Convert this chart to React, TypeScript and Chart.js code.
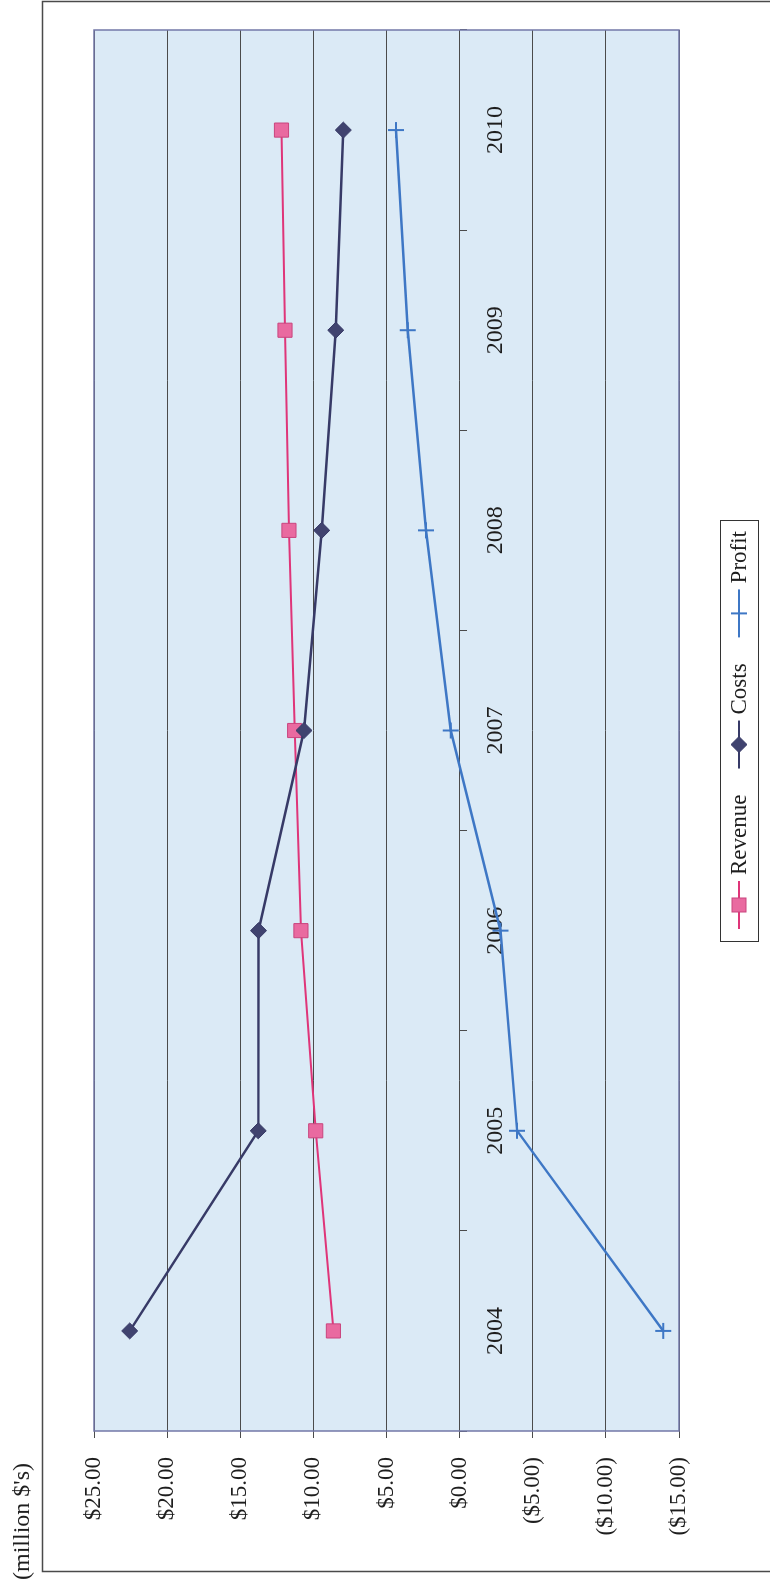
import React, { useEffect, useRef } from "react";
import { Chart, registerables } from "chart.js";

Chart.register(...registerables);

// ---- data ----
const years = ["2004", "2005", "2006", "2007", "2008", "2009", "2010"];
const revenue = [8.63, 9.84, 10.85, 11.28, 11.67, 11.94, 12.18];
const costs = [22.56, 13.77, 13.75, 10.64, 9.43, 8.47, 7.95];
const profit = [-13.93, -3.93, -2.8, 0.6, 2.3, 3.55, 4.35];
const seriesNames = ["Revenue", "Costs", "Profit"];
const valueMin = -15;
const valueMax = 25;
const valueStep = 5;
const axisTitle = "(million $'s)";

const fmt = (v: number) =>
  v < 0 ? `($${Math.abs(v).toFixed(2)})` : `$${v.toFixed(2)}`;

// landscape canvas, rotated to portrait by CSS
const W = 1585;
const H = 770;
const SERIF = '"Liberation Serif", "Times New Roman", serif';

const COLORS = {
  revLine: "#df3579",
  revFill: "#e96aa0",
  revEdge: "#c9457e",
  costLine: "#373a67",
  costFill: "#40436f",
  profLine: "#3e77c5",
  grid: "#4b4b4b",
  plotBorder: "#7378a8",
  plotBg: "#dbeaf6",
  frame: "#4a4a4a",
  text: "#1e1e1e",
};

function drawMarker(ctx: CanvasRenderingContext2D, style: string, x: number, y: number, fill: string, stroke: string) {
  ctx.save();
  ctx.fillStyle = fill;
  ctx.strokeStyle = stroke;
  ctx.lineWidth = 1;
  if (style === "rect") {
    ctx.fillRect(x - 7, y - 7, 14, 14);
    ctx.strokeRect(x - 7, y - 7, 14, 14);
  } else if (style === "rectRot") {
    ctx.beginPath();
    ctx.moveTo(x, y - 8);
    ctx.lineTo(x + 8, y);
    ctx.lineTo(x, y + 8);
    ctx.lineTo(x - 8, y);
    ctx.closePath();
    ctx.fill();
    ctx.stroke();
  } else {
    ctx.lineWidth = 2;
    ctx.beginPath();
    ctx.moveTo(x - 8, y);
    ctx.lineTo(x + 8, y);
    ctx.moveTo(x, y - 8);
    ctx.lineTo(x, y + 8);
    ctx.stroke();
  }
  ctx.restore();
}

const decorPlugin = {
  id: "decor",
  beforeDraw(chart: any) {
    const { ctx, chartArea: a } = chart;
    ctx.save();
    ctx.fillStyle = "#ffffff";
    ctx.fillRect(0, 0, W, H);
    ctx.strokeStyle = COLORS.frame;
    ctx.lineWidth = 1.5;
    ctx.strokeRect(13.5, 42.5, 1570, 800);
    ctx.fillStyle = COLORS.plotBg;
    ctx.fillRect(a.left, a.top, a.right - a.left, a.bottom - a.top);
    ctx.font = `24px ${SERIF}`;
    ctx.fillStyle = COLORS.text;
    ctx.textAlign = "left";
    ctx.textBaseline = "middle";
    ctx.fillText(axisTitle, 5, 23);
    ctx.restore();
  },
  beforeDatasetsDraw(chart: any) {
    const { ctx, chartArea: a } = chart;
    ctx.save();
    ctx.strokeStyle = COLORS.plotBorder;
    ctx.lineWidth = 1.5;
    ctx.strokeRect(a.left, a.top, a.right - a.left, a.bottom - a.top);
    ctx.restore();
  },
  afterDraw(chart: any) {
    const { ctx } = chart;
    ctx.save();
    ctx.font = `23px ${SERIF}`;
    const top = 720;
    const bottom = 758;
    const cy = (top + bottom) / 2;
    const left = 643;
    let x = 656;
    const items = chart.data.datasets.map((d: any) => ({
      label: d.label,
      line: d.borderColor,
      fill: d.pointBackgroundColor,
      edge: d.pointBorderColor,
      style: d.pointStyle,
    }));
    const placed: any[] = [];
    items.forEach((it: any, i: number) => {
      const tw = ctx.measureText(it.label).width;
      placed.push({ ...it, x, tx: x + 54 });
      x = x + 54 + tw + (i < items.length - 1 ? 26 : 10);
    });
    const right = x;
    ctx.fillStyle = "#ffffff";
    ctx.fillRect(left, top, right - left, bottom - top);
    ctx.strokeStyle = "#333";
    ctx.lineWidth = 1;
    ctx.strokeRect(left + 0.5, top + 0.5, right - left, bottom - top);
    placed.forEach((p) => {
      ctx.strokeStyle = p.line;
      ctx.lineWidth = 2;
      ctx.beginPath();
      ctx.moveTo(p.x, cy);
      ctx.lineTo(p.x + 48, cy);
      ctx.stroke();
      drawMarker(ctx, p.style, p.x + 24, cy, p.fill, p.style === "cross" ? p.line : p.edge);
      ctx.fillStyle = COLORS.text;
      ctx.textAlign = "left";
      ctx.textBaseline = "middle";
      ctx.fillText(p.label, p.tx, cy + 1);
    });
    ctx.restore();
  },
};

export default function App() {
  const ref = useRef<HTMLCanvasElement>(null);

  useEffect(() => {
    if (!ref.current) return;
    const chart = new Chart(ref.current, {
      type: "line",
      data: {
        labels: years,
        datasets: [
          {
            label: seriesNames[0],
            data: revenue,
            borderColor: COLORS.revLine,
            borderWidth: 2,
            pointStyle: "rect",
            pointRadius: 10,
            pointBackgroundColor: COLORS.revFill,
            pointBorderColor: COLORS.revEdge,
            pointBorderWidth: 1,
            tension: 0,
            order: 2,
          },
          {
            label: seriesNames[1],
            data: costs,
            borderColor: COLORS.costLine,
            borderWidth: 2.5,
            pointStyle: "rectRot",
            pointRadius: 8,
            pointBackgroundColor: COLORS.costFill,
            pointBorderColor: COLORS.costLine,
            pointBorderWidth: 1,
            tension: 0,
            order: 1,
          },
          {
            label: seriesNames[2],
            data: profit,
            borderColor: COLORS.profLine,
            borderWidth: 2.5,
            pointStyle: "cross",
            pointRadius: 8,
            pointBackgroundColor: COLORS.profLine,
            pointBorderColor: COLORS.profLine,
            pointBorderWidth: 2,
            tension: 0,
            order: 0,
          },
        ],
      },
      options: {
        animation: false,
        responsive: false,
        devicePixelRatio: 1,
        layout: { padding: { left: 0, right: 30, top: 94, bottom: 91 } },
        plugins: {
          legend: { display: false },
          tooltip: { enabled: false },
          title: { display: false },
        },
        scales: {
          x: {
            type: "category",
            position: { y: 0 } as any,
            offset: true,
            grid: {
              offset: true,
              drawOnChartArea: false,
              drawTicks: true,
              tickLength: 7,
              color: COLORS.grid,
              lineWidth: 1,
            },
            border: { display: false },
            ticks: {
              font: { family: SERIF, size: 24 },
              color: COLORS.text,
              padding: 15,
              maxRotation: 0,
              autoSkip: false,
            },
          },
          y: {
            min: valueMin,
            max: valueMax,
            ticks: {
              stepSize: valueStep,
              callback: (v: any) => fmt(Number(v)),
              font: { family: SERIF, size: 23 },
              color: COLORS.text,
              padding: 19,
            },
            grid: { color: COLORS.grid, lineWidth: 1, tickLength: 7 },
            border: { display: false },
            afterFit: (s: any) => {
              s.width = 154;
            },
          },
        },
      },
      plugins: [decorPlugin],
    });
    return () => chart.destroy();
  }, []);

  return (
    <div
      style={{
        position: "absolute",
        left: 0,
        top: 0,
        width: 770,
        height: 1585,
        overflow: "hidden",
        background: "#fff",
      }}
    >
      <div
        style={{
          position: "absolute",
          left: 0,
          top: 0,
          width: W,
          height: H,
          transformOrigin: "0 0",
          transform: `translateY(${W}px) rotate(-90deg)`,
        }}
      >
        <canvas ref={ref} width={W} height={H} style={{ display: "block", width: W, height: H }} />
      </div>
    </div>
  );
}
